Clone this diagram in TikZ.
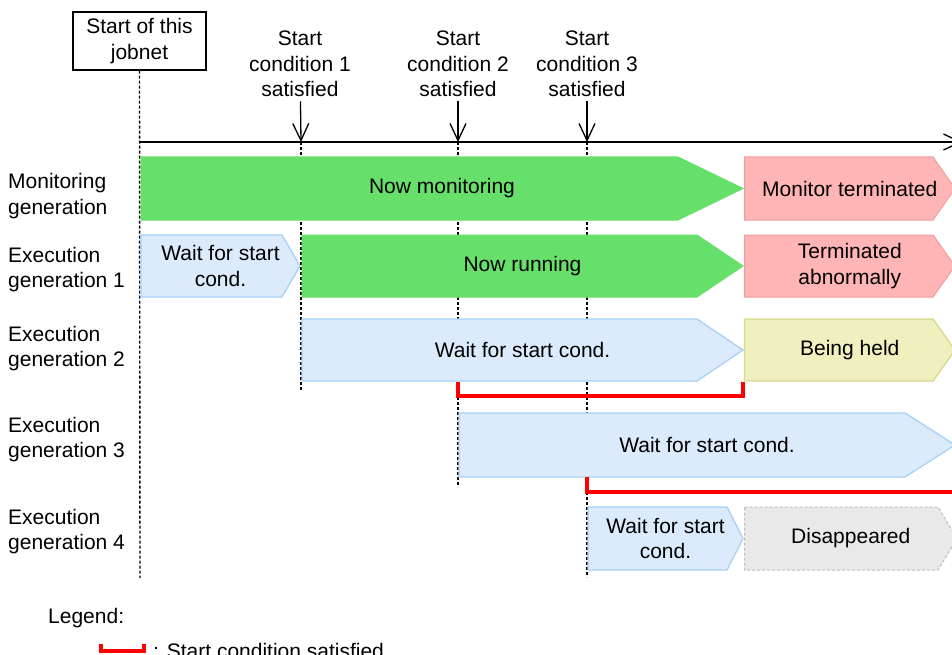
\documentclass[tikz,border=0pt]{standalone}
\usepackage{fontspec}
\setmainfont{Liberation Sans}
\usetikzlibrary{arrows.meta}
\definecolor{grnfill}{HTML}{66E06A}
\definecolor{pinkfill}{HTML}{FFB5B5}
\definecolor{pinkdraw}{HTML}{F39B9B}
\definecolor{bluefill}{HTML}{DCEBFC}
\definecolor{bluedraw}{HTML}{A8D0F8}
\definecolor{yelfill}{HTML}{F0F0BE}
\definecolor{yeldraw}{HTML}{D8D88E}
\definecolor{grayfill}{HTML}{E9E9E9}
\definecolor{graydraw}{HTML}{BDBDBD}
\definecolor{redline}{HTML}{FF0000}
% #1 style, #2 name, #3 left x, #4 tip x, #5 shoulder x, #6 top y, #7 bottom y, #8 text
\newcommand{\stagebox}[8]{%
  \draw[#1] (#3,#6) -- (#5,#6) -- (#4,{(#6+#7)/2}) -- (#5,#7) -- (#3,#7) -- cycle;
  \node[stext] (#2) at ({(#3+#4)/2},{(#6+#7)/2}) {#8};}
\begin{document}
\begin{tikzpicture}[x=1pt,y=-1pt,
  txt/.style={font=\fontsize{21}{25.5}\selectfont, text=black, inner sep=0pt},
  stext/.style={txt, align=center},
  lbl/.style={txt, align=left, anchor=base west},
  guide/.style={line width=1.4pt, dash pattern=on 3pt off 2pt},
  timeaxis/.style={line width=1.4pt},
  pointer/.style={line width=1.3pt, -{Straight Barb[length=17pt,width=16pt]}},
  greenstage/.style={fill=grnfill, draw=grnfill, line width=1pt},
  pinkstage/.style={fill=pinkfill, draw=pinkdraw, line width=1pt},
  bluestage/.style={fill=bluefill, draw=bluedraw, line width=1.3pt},
  yelstage/.style={fill=yelfill, draw=yeldraw, line width=1.3pt},
  graystage/.style={fill=grayfill, draw=graydraw, line width=1pt, dash pattern=on 3pt off 2pt},
  bracket/.style={draw=redline, line width=3.2pt}
]
\useasboundingbox (0,0) rectangle (952,655);

% start box and start-condition labels (base = baseline of the last line)
\node[stext, draw, line width=1.3pt, minimum width=133pt, minimum height=58pt] (job) at (139.5,41) {Start of this\\jobnet};
\node[stext, anchor=base] (c1) at (300,97) {Start\\condition 1\\satisfied};
\node[stext, anchor=base] (c2) at (458,97) {Start\\condition 2\\satisfied};
\node[stext, anchor=base] (c3) at (587,97) {Start\\condition 3\\satisfied};

% guide lines (behind the stages)
\coordinate (g0b) at (140,578);
\coordinate (a1) at (301,142);
\coordinate (a2) at (458,142);
\coordinate (a3) at (587,142);
\coordinate (g1b) at (301,390);
\coordinate (g2b) at (458,487);
\coordinate (g3b) at (587,577);
\draw[guide] (job.south) -- (g0b);
\draw[guide] (a1) -- (g1b);
\draw[guide] (a2) -- (g2b);
\draw[guide] (a3) -- (g3b);

% time axis and arrows
\coordinate (ax0) at (140,142);
\coordinate (ax1) at (962,142);
\draw[timeaxis, pointer] (ax0) -- (ax1);
\draw[pointer, shorten <=4pt] (c1) -- (a1);
\draw[pointer, shorten <=4pt] (c2) -- (a2);
\draw[pointer, shorten <=4pt] (c3) -- (a3);

% row labels
\node[lbl] (lm) at (8,214.5) {Monitoring\\generation};
\node[lbl] (le1) at (8,287.5) {Execution\\generation 1};
\node[lbl] (le2) at (8,366.5) {Execution\\generation 2};
\node[lbl] (le3) at (8,457.5) {Execution\\generation 3};
\node[lbl] (le4) at (8,549.5) {Execution\\generation 4};

% stages
\stagebox{greenstage}{mon}{141}{743}{678}{157}{220}{Now monitoring}
\stagebox{pinkstage}{monend}{744.5}{955}{933}{157}{220}{Monitor terminated}
\stagebox{bluestage}{w1}{141}{300}{282}{235}{297}{Wait for start\\cond.}
\stagebox{greenstage}{run1}{302}{743}{697}{235}{297}{Now running}
\stagebox{pinkstage}{abn1}{744.5}{955}{933}{235}{297}{Terminated\\abnormally}
\stagebox{bluestage}{w2}{302}{743}{697}{319}{381}{Wait for start cond.}
\stagebox{yelstage}{held2}{744.5}{955}{933}{319}{381}{Being held}
\stagebox{bluestage}{w3}{459}{955}{905}{413}{477}{Wait for start cond.}
\stagebox{bluestage}{w4}{588}{743}{727}{507}{570}{Wait for start\\cond.}
\stagebox{graystage}{dis4}{744.5}{957}{938}{507}{570}{Disappeared}

% start condition satisfied brackets
\coordinate (b1a) at (458,382);
\coordinate (b1b) at (743,382);
\draw[bracket] (b1a) -- ++(0,14) -| (b1b);
\coordinate (b2a) at (587,477);
\coordinate (b2b) at (960,477);
\draw[bracket] (b2a) -- ++(0,15) -| (b2b);

% legend
\node[lbl] (leg) at (48,623) {Legend:};
\coordinate (lb1) at (101,644);
\coordinate (lb2) at (144,644);
\draw[bracket] (lb1) -- ++(0,7) -| (lb2);
\node[lbl] (legtext) at (153,658) {: Start condition satisfied};
\end{tikzpicture}
\end{document}
